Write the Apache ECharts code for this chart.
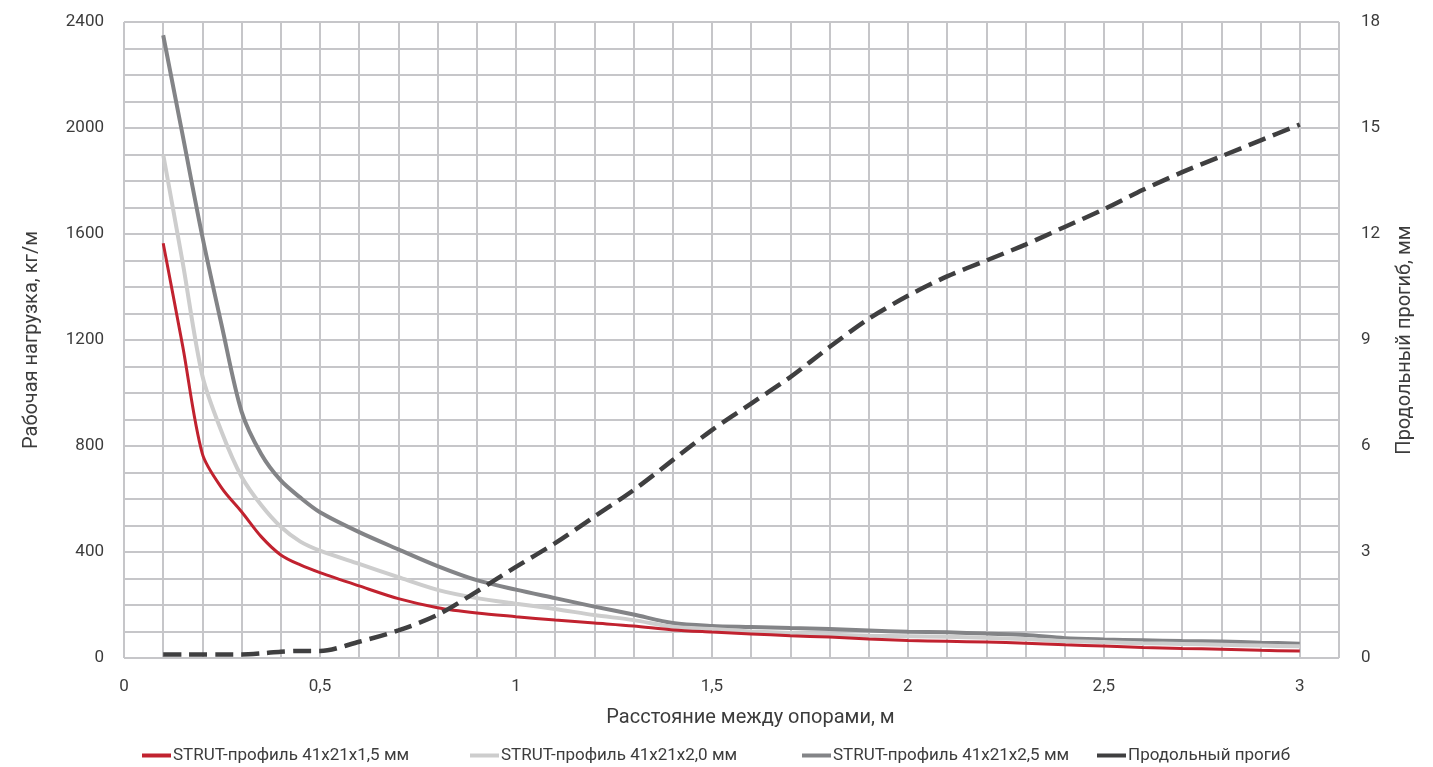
<!DOCTYPE html>
<html><head><meta charset="utf-8">
<script src="https://cdn.jsdelivr.net/npm/echarts@6/dist/echarts.min.js"></script>
<style>html,body{margin:0;padding:0;background:#fff}#c{width:1433px;height:767px}</style>
</head><body><div id="c"></div>
<script>
const spans = [0.1,0.15,0.2,0.25,0.3,0.35,0.4,0.45,0.5,0.6,0.7,0.8,0.9,1.0,1.1,1.2,1.3,1.4,1.5,1.6,1.7,1.8,1.9,2.0,2.1,2.2,2.3,2.4,2.5,2.6,2.7,2.8,2.9,3.0];
const load15 = [1565,1175,770,640,552,458,389,351,322,272,224,190,170,156,143,132,121,106,98,91,84,79,72,66,63,60,56,50,45,40,36,33,29,26];
const load20 = [1900,1490,1065,850,684,577,495,439,405,355,305,257,226,205,185,162,143,118,109,100,94,88,84,82,80,76,72,64,60,56,53,50,47,44];
const load25 = [2350,1970,1590,1250,930,770,670,605,550,475,410,347,294,258,226,194,164,132,121,117,113,109,104,99,97,92,87,75,70,67,64,62,58,54];
const deflection = [0.1,0.1,0.1,0.1,0.1,0.13,0.18,0.2,0.2,0.46,0.78,1.22,1.88,2.58,3.25,4.0,4.75,5.6,6.45,7.2,7.95,8.8,9.6,10.25,10.8,11.25,11.7,12.2,12.7,13.25,13.75,14.2,14.65,15.1];
const names = ['STRUT-профиль 41x21x1,5 мм','STRUT-профиль 41x21x2,0 мм','STRUT-профиль 41x21x2,5 мм','Продольный прогиб'];
const xName = 'Расстояние между опорами, м';
const yLeftName = 'Рабочая нагрузка, кг/м';
const yRightName = 'Продольный прогиб, мм';

const pair = arr => spans.map((x,i)=>[x,arr[i]]);
const FONT = 'Roboto';
const TXT = '#3c3c3c';
const GRID = '#c6c6c9';
const chart = echarts.init(document.getElementById('c'));
const legendLefts = [137,465,797,1092];
chart.setOption({
  animation:false,
  textStyle:{fontFamily:FONT},
  grid:{left:124,right:94,top:22,bottom:109,containLabel:false},
  legend: names.map((n,i)=>({
    data:[{name:n,icon:'rect'}], left:legendLefts[i], top:742, itemWidth:29, itemHeight:4, itemGap:0,
    textStyle:{fontFamily:FONT,fontSize:17,color:TXT,padding:[0,0,0,-3]}
  })),
  xAxis:{type:'value',min:0,max:3.1,interval:0.1,
    name:xName,nameLocation:'middle',nameGap:50,
    nameTextStyle:{fontFamily:FONT,fontSize:20,color:TXT,padding:[0,0,0,38]},
    axisLine:{show:false},axisTick:{show:false},
    axisLabel:{color:TXT,fontSize:17,margin:20,showMaxLabel:false,
      formatter:v=>{const r=Math.round(v*2);return (Math.abs(v*2-r)<1e-6 && v<=3.0001)?String(r/2).replace('.',','):'';}},
    splitLine:{show:true,lineStyle:{color:GRID,width:2}}},
  yAxis:[
    {type:'value',min:0,max:2400,interval:100,position:'left',
     name:yLeftName,nameLocation:'middle',nameGap:82,nameRotate:90,
     nameTextStyle:{fontFamily:FONT,fontSize:20,color:TXT},
     axisLine:{show:false},axisTick:{show:false},
     axisLabel:{color:TXT,fontSize:17,margin:20,formatter:v=>(Math.round(v)%400===0?String(Math.round(v)):'')},
     splitLine:{show:true,lineStyle:{color:GRID,width:2}}},
    {type:'value',min:0,max:18,interval:0.75,position:'right',
     name:yRightName,nameLocation:'middle',nameGap:56,nameRotate:90,
     nameTextStyle:{fontFamily:FONT,fontSize:20,color:TXT},
     axisLine:{show:false},axisTick:{show:false},
     axisLabel:{color:TXT,fontSize:17,margin:22,formatter:v=>{const r=Math.round(v*100)/100;return (Math.abs(r/3-Math.round(r/3))<1e-6)?String(Math.round(r)):'';}},
     splitLine:{show:false}}
  ],
  series:[
    {name:names[0],type:'line',data:pair(load15),yAxisIndex:0,smooth:0.3,showSymbol:false,z:4,
     lineStyle:{color:'#c1222f',width:3},itemStyle:{color:'#c1222f'}},
    {name:names[1],type:'line',data:pair(load20),yAxisIndex:0,smooth:0.3,showSymbol:false,z:3,
     lineStyle:{color:'#cdcdcd',width:4},itemStyle:{color:'#cdcdcd'}},
    {name:names[2],type:'line',data:pair(load25),yAxisIndex:0,smooth:0.3,showSymbol:false,z:2,
     lineStyle:{color:'#838487',width:4},itemStyle:{color:'#838487'}},
    {name:names[3],type:'line',data:pair(deflection),yAxisIndex:1,smooth:0.3,showSymbol:false,z:5,
     lineStyle:{color:'#3f3f40',width:4.5,type:[18,8]},itemStyle:{color:'#3f3f40'}}
  ]
});
</script></body></html>
